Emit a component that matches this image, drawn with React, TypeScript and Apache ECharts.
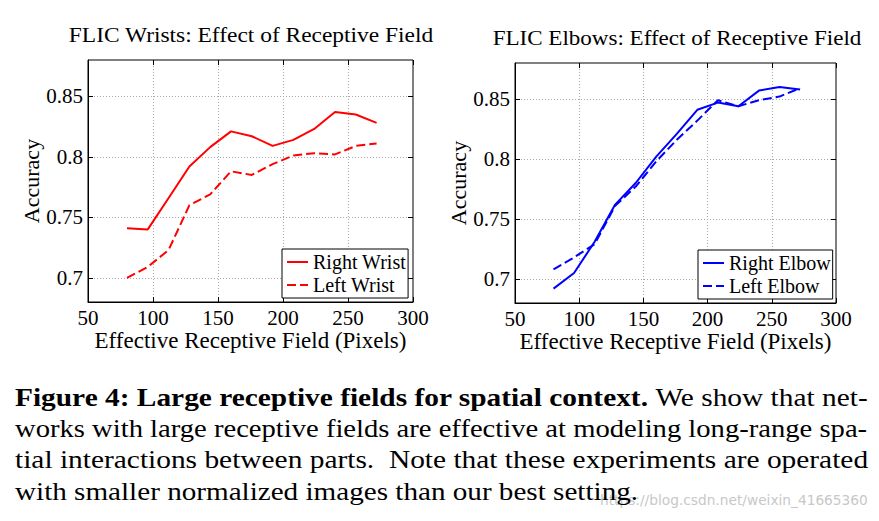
import React, { useEffect, useRef } from 'react';
import * as echarts from 'echarts';

const fieldPixels = [80, 96, 112, 128, 144, 160, 176, 192, 208, 224, 240, 256, 272];
const rightWrist = [0.741, 0.740, 0.766, 0.792, 0.808, 0.821, 0.817, 0.809, 0.814, 0.823, 0.837, 0.835, 0.828];
const leftWrist = [0.700, 0.709, 0.723, 0.760, 0.769, 0.788, 0.785, 0.794, 0.801, 0.803, 0.802, 0.809, 0.811];
const rightElbow = [0.692, 0.705, 0.731, 0.762, 0.780, 0.802, 0.821, 0.841, 0.847, 0.844, 0.857, 0.860, 0.858];
const leftElbow = [0.708, 0.718, 0.729, 0.761, 0.777, 0.798, 0.816, 0.832, 0.849, 0.844, 0.849, 0.852, 0.859];
const yTickValues = [0.7, 0.75, 0.8, 0.85];

const titles = ['FLIC Wrists: Effect of Receptive Field', 'FLIC Elbows: Effect of Receptive Field'];
const xAxisTitle = 'Effective Receptive Field (Pixels)';
const yAxisTitle = 'Accuracy';
const captionBold = 'Figure 4: Large receptive fields for spatial context.';
const captionLines = [
  ' We show that net-',
  'works with large receptive fields are effective at modeling long-range spa-',
  'tial interactions between parts.  Note that these experiments are operated',
  'with smaller normalized images than our best setting.',
];
const watermark = 'https://blog.csdn.net/weixin_41665360';

const SERIF = "'Liberation Serif', 'Times New Roman', Times, 'Nimbus Roman', serif";

export default function App() {
  const ref = useRef<HTMLDivElement>(null);
  useEffect(() => {
    const chart = echarts.init(ref.current!, null, { renderer: 'svg' });
    const cv = document.createElement('canvas');
    const ctx = cv.getContext('2d')!;
    const measure = (t: string, size: number, weight = 'normal', family = SERIF) => {
      ctx.font = `${weight} ${size}px ${family}`;
      return ctx.measureText(t).width;
    };

    const grids = [
      { left: 88, top: 60, width: 325, height: 242 },
      { left: 515, top: 63, width: 321, height: 240 },
    ];

    const xAxes: any[] = [];
    const yAxes: any[] = [];
    grids.forEach((_, gi) => {
      ['bottom', 'top'].forEach((pos) => {
        const main = pos === 'bottom';
        xAxes.push({
          type: 'value', gridIndex: gi, position: pos, min: 50, max: 300, interval: 50,
          axisLine: { show: main, onZero: false, lineStyle: { color: '#000', width: 1 } },
          axisTick: { show: true, inside: true, length: 5, lineStyle: { color: '#000' } },
          axisLabel: main
            ? { show: true, margin: 5, color: '#000', fontFamily: SERIF, fontSize: 21 }
            : { show: false },
          splitLine: main
            ? { show: true, showMinLine: false, showMaxLine: false, lineStyle: { color: '#a8a8a8', type: [1, 2], width: 1 } }
            : { show: false },
          name: main ? xAxisTitle : '',
          nameLocation: 'middle', nameGap: 14,
          nameTextStyle: { color: '#000', fontFamily: SERIF, fontSize: 23 },
        });
      });
      ['left', 'right'].forEach((pos) => {
        const main = pos === 'left';
        yAxes.push({
          type: 'value', gridIndex: gi, position: pos, min: 0.68, max: 0.88,
          axisLine: { show: main, onZero: false, lineStyle: { color: '#000', width: 1 } },
          axisTick: { show: true, inside: true, length: 5, customValues: yTickValues, lineStyle: { color: '#000' } },
          axisLabel: main
            ? { show: true, margin: 5, customValues: yTickValues, color: '#000', fontFamily: SERIF, fontSize: 21 }
            : { show: false },
          splitLine: main
            ? { show: true, lineStyle: { color: '#a8a8a8', type: [1, 2], width: 1 } }
            : { show: false },
          name: main ? yAxisTitle : '',
          nameLocation: 'middle', nameGap: 44, nameRotate: 90,
          nameTextStyle: { color: '#000', fontFamily: SERIF, fontSize: 22 },
        });
      });
    });

    const mk = (name: string, vals: number[], color: string, dashed: boolean, gi: number) => ({
      type: 'line', name, xAxisIndex: gi * 2, yAxisIndex: gi * 2,
      data: fieldPixels.map((x, i) => [x, vals[i]]),
      symbol: 'none', showSymbol: false,
      lineStyle: { color, width: 2, type: dashed ? [9, 4] : 'solid' },
      itemStyle: { color },
      z: 5,
    });

    const legendBase = {
      orient: 'vertical', itemWidth: 21, itemHeight: 12, itemGap: 3,
      padding: [3, 2, 3, 4], borderColor: '#000', borderWidth: 1, backgroundColor: '#fff',
      textStyle: { color: '#000', fontFamily: SERIF, fontSize: 20, lineHeight: 20 },
      itemStyle: { color: 'rgba(0,0,0,0)', borderWidth: 0, opacity: 0 },
      lineStyle: { width: 2, type: 'inherit' },
      selectedMode: false, z: 10,
    };

    // caption fitting
    const capSize = 26;
    const capTarget = 853;
    const w1 = measure(captionBold, capSize, 'bold') + measure(captionLines[0], capSize);
    const s1 = capTarget / w1;
    const s2 = capTarget / measure(captionLines[1], capSize);
    const s3 = capTarget / measure(captionLines[2], capSize);
    const s4 = (s1 + s2 + s3) / 3;
    const capYs = [397, 428, 459, 491];
    const capX = 15;

    const t0 = 365 / measure(titles[0], 22);
    const t1 = 369 / measure(titles[1], 22);
    const wm = 268 / measure(watermark, 14, 'normal', "'DejaVu Sans', sans-serif");

    const capText = (text: string, y: number, s: number, rich = false) => ({
      type: 'text', x: capX, y, scaleX: s, z: 20,
      style: {
        text, fill: '#000', fontFamily: SERIF, fontSize: capSize,
        textAlign: 'left', align: 'left', textVerticalAlign: 'middle', verticalAlign: 'middle',
        ...(rich ? { rich: { b: { fontWeight: 'bold', fontFamily: SERIF, fontSize: capSize, fill: '#000' } } } : {}),
      },
    });

    chart.setOption({
      animation: false,
      backgroundColor: '#fff',
      grid: grids.map((g) => ({ ...g, show: true, borderColor: '#000', borderWidth: 1, backgroundColor: 'transparent' })),
      xAxis: xAxes,
      yAxis: yAxes,
      legend: [
        { ...legendBase, data: ['Right Wrist', 'Left Wrist'], left: 282, top: 249 },
        { ...legendBase, data: ['Right Elbow', 'Left Elbow'], left: 698, top: 250 },
      ],
      series: [
        mk('Right Wrist', rightWrist, '#ff0000', false, 0),
        mk('Left Wrist', leftWrist, '#ff0000', true, 0),
        mk('Right Elbow', rightElbow, '#0000ff', false, 1),
        mk('Left Elbow', leftElbow, '#0000ff', true, 1),
      ],
      graphic: [
        {
          type: 'text', x: 251, y: 35, scaleX: t0,
          style: { text: titles[0], fill: '#000', fontFamily: SERIF, fontSize: 22, textAlign: 'center', align: 'center', textVerticalAlign: 'middle', verticalAlign: 'middle' },
        },
        {
          type: 'text', x: 677, y: 38, scaleX: t1,
          style: { text: titles[1], fill: '#000', fontFamily: SERIF, fontSize: 22, textAlign: 'center', align: 'center', textVerticalAlign: 'middle', verticalAlign: 'middle' },
        },
        {
          type: 'text', x: 600, y: 500, scaleX: wm, z: 1,
          style: { text: watermark, fill: '#c8c8c8', fontFamily: "'DejaVu Sans', sans-serif", fontSize: 14, textAlign: 'left', align: 'left', textVerticalAlign: 'middle', verticalAlign: 'middle' },
        },
        capText(`{b|${captionBold}}${captionLines[0]}`, capYs[0], s1, true),
        capText(captionLines[1], capYs[1], s2),
        capText(captionLines[2], capYs[2], s3),
        capText(captionLines[3], capYs[3], s4),
      ],
    });
    return () => chart.dispose();
  }, []);
  return <div ref={ref} style={{ position: 'fixed', left: 0, top: 0, width: 879, height: 521, background: '#fff' }} />;
}
